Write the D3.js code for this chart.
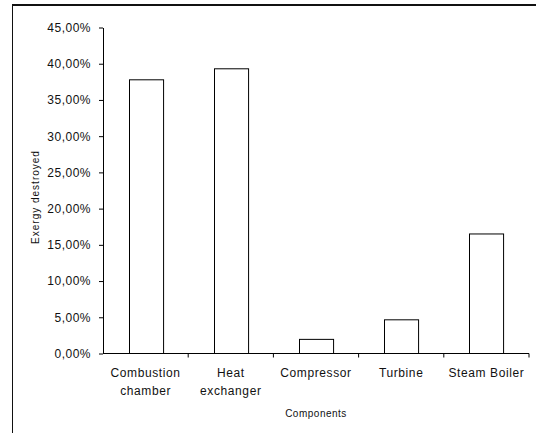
<!DOCTYPE html>
<html>
<head>
<meta charset="utf-8">
<script src="https://cdn.jsdelivr.net/npm/d3@7"></script>
<style>
  body { margin: 0; background: #fff; }
  svg text { font-family: "Liberation Sans", Arial, sans-serif; fill: #111; }
</style>
</head>
<body>
<div id="chart"></div>
<script>
const components = ['Combustion chamber', 'Heat exchanger', 'Compressor', 'Turbine', 'Steam Boiler']
const labelLines = [['Combustion', 'chamber'], ['Heat', 'exchanger'], ['Compressor'], ['Turbine'], ['Steam Boiler']]
const destroyed = [0.3778, 0.393, 0.0195, 0.0465, 0.165]
const yTicks = [0, 0.05, 0.10, 0.15, 0.20, 0.25, 0.30, 0.35, 0.40, 0.45]

const W = 536, H = 435
const margin = {top: 27.5, right: 7, bottom: 81.5, left: 103}
const width = W - margin.left - margin.right
const height = H - margin.top - margin.bottom

const pct = d => d3.format('.2f')(d * 100).replace('.', ',') + '%'

const root = d3.select('#chart').append('svg')
    .attr('width', W)
    .attr('height', H)

// outer frame (runs off the right and bottom edges)
root.append('line')
    .attr('x1', 12.5).attr('x2', W + 5)
    .attr('y1', 5).attr('y2', 5)
    .attr('stroke', '#111').attr('stroke-width', 2)
root.append('line')
    .attr('x1', 12.5).attr('x2', 12.5)
    .attr('y1', 4).attr('y2', 433)
    .attr('stroke', '#111').attr('stroke-width', 1)

const svg = root.append('g')
    .attr('transform', `translate(${margin.left},${margin.top})`)

let x = d3.scaleBand()
    .domain(components)
    .range([0, width])
    .paddingInner(0.6)
    .paddingOuter(0.3)

let y = d3.scaleLinear()
    .domain([0, 0.45])
    .range([height, 0])

svg.append('g')
    .selectAll('.bar')
    .data(components)
  .join('rect')
    .attr('class', 'bar')
    .attr('x', d => Math.round(x(d)) + 0.5)
    .attr('y', (d, i) => y(destroyed[i]))
    .attr('width', x.bandwidth())
    .attr('height', (d, i) => height - y(destroyed[i]))
    .attr('fill', '#fff')
    .attr('stroke', '#000')
    .attr('stroke-width', 1)

// y axis
const yAxis = svg.append('g')
    .attr('class', 'y-axis axis')
    .call(d3.axisLeft(y).tickValues(yTicks).tickFormat(pct).tickSize(4).tickSizeOuter(0).tickPadding(8))
yAxis.selectAll('text')
    .style('font-size', '12px')
    .style('letter-spacing', '0.5px')

// x axis: ticks at category boundaries
const xAxis = svg.append('g')
    .attr('class', 'x-axis axis')
    .attr('transform', `translate(0,${height})`)
xAxis.append('path')
    .attr('d', `M0,0H${width}`)
    .attr('stroke', '#000')
const step = x.step()
xAxis.selectAll('.xtick')
    .data(components)
  .join('line')
    .attr('class', 'xtick')
    .attr('x1', d => x(d) + x.bandwidth() + (step - x.bandwidth()) / 2)
    .attr('x2', d => x(d) + x.bandwidth() + (step - x.bandwidth()) / 2)
    .attr('y1', 0).attr('y2', 4)
    .attr('stroke', '#000')

xAxis.selectAll('.xlabel')
    .data(components)
  .join('text')
    .attr('class', 'xlabel')
    .attr('text-anchor', 'middle')
    .attr('x', d => x(d) + x.bandwidth() / 2)
    .attr('y', 23)
    .style('font-size', '12px')
    .style('letter-spacing', '0.6px')
    .each(function(d, i) {
        d3.select(this).selectAll('tspan')
            .data(labelLines[i])
          .join('tspan')
            .attr('x', x(d) + x.bandwidth() / 2)
            .attr('dy', (t, j) => j ? 18 : 0)
            .text(t => t)
    })

svg.selectAll('.domain').attr('stroke', '#000')

svg.append('text')
    .attr('text-anchor', 'middle')
    .attr('x', width / 2)
    .attr('y', height + 63)
    .style('font-size', '10px')
    .style('letter-spacing', '0.5px')
    .text('Components')

svg.append('text')
    .attr('text-anchor', 'middle')
    .attr('transform', `translate(${39 - margin.left},${197 - margin.top}) rotate(-90)`)
    .style('font-size', '10px')
    .style('letter-spacing', '1px')
    .text('Exergy destroyed')
</script>
</body>
</html>
